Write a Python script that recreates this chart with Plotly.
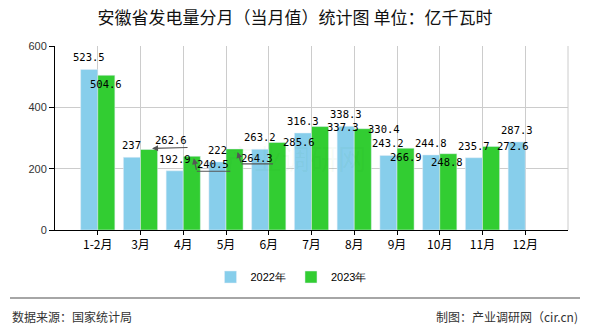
import plotly.graph_objects as go

categories = ["1-2月", "3月", "4月", "5月", "6月", "7月", "8月", "9月", "10月", "11月", "12月"]
values_2022 = [523.5, 237, 192.9, 222, 263.2, 316.3, 338.3, 243.2, 244.8, 235.7, 287.3]
values_2023 = [504.6, 262.6, 240.5, 264.3, 285.6, 337.3, 330.4, 266.9, 248.8, 272.6, None]
series_names = ["2022年", "2023年"]
y_ticks = [0, 200, 400, 600]

# label offsets (pixels) for 2023 labels relative to bar top centre (dx right, dy down)
label_off_2023 = [(0, 9), (22, -9), (21, 8), (22, 9), (22, 0), (23, 0), (21, 0), (0, 9), (-1, 8), (22, 0), (0, 0)]

W, H = 590, 330
ML, MR, MT, MB = 55, 22, 46, 100
plot_w = W - ML - MR
unit_px = plot_w / 12.0
bar_half = 0.4 * unit_px / 2

C22 = "#87CEEB"
C23 = "#32CD32"
LABEL_FONT = dict(family="DejaVu Sans Mono, Liberation Mono, monospace", size=10.5, color="#000")

fig = go.Figure()
fig.add_trace(go.Bar(x=categories, y=values_2022, name=series_names[0], marker_color=C22))
fig.add_trace(go.Bar(x=categories, y=values_2023, name=series_names[1], marker_color=C23))

ann = []
for c, v in zip(categories, values_2022):
    ann.append(dict(x=c, y=v, xref="x", yref="y", text=str(v), showarrow=False,
                    xshift=-bar_half, yshift=12, font=LABEL_FONT))
for c, v, (dx, dy) in zip(categories, values_2023, label_off_2023):
    if v is None:
        continue
    ann.append(dict(x=c, y=v, xref="x", yref="y", text=str(v), showarrow=False,
                    xshift=bar_half + dx, yshift=-dy, font=LABEL_FONT))

# leader lines (head dx,dy ; tail dx,dy ; arrowhead?) relative to 2023 bar top centre
leaders = {
    "3月": [((3, -1), (40, -2), True)],
    "4月": [((2, 2), (5, 15), True), ((5, 15), (40, 15), False)],
    "5月": [((3, 3), (7, 15), True), ((7, 15), (40, 15), False)],
}
for c, segs in leaders.items():
    v = values_2023[categories.index(c)]
    for (hx, hy), (tx, ty), head in segs:
        ann.append(dict(x=c, y=v, xref="x", yref="y", text="", showarrow=True,
                        xshift=bar_half + hx, yshift=-hy, ax=tx - hx, ay=ty - hy,
                        arrowhead=2 if head else 0, arrowsize=1, arrowwidth=1.2,
                        arrowcolor="#555"))

# watermark
ann.append(dict(x=0.47, y=0.27, xref="paper", yref="paper", text="产业调研网", showarrow=False,
                font=dict(family="Noto Sans CJK SC", size=28, color="rgba(0,140,0,0.05)")))

py = lambda ypx: -(ypx - (H - MB)) / (H - MT - MB)
px = lambda xpx: (xpx - ML) / plot_w

ann.append(dict(x=px(10), y=py(316), xref="paper", yref="paper", text="数据来源：国家统计局",
                showarrow=False, xanchor="left", yanchor="middle",
                font=dict(family="Noto Sans CJK SC", size=12, color="#333")))
ann.append(dict(x=px(580), y=py(316), xref="paper", yref="paper", text="制图：产业调研网（cir.cn)",
                showarrow=False, xanchor="right", yanchor="middle",
                font=dict(family="Noto Sans CJK SC", size=12, color="#333")))

shapes = [
    dict(type="line", xref="paper", yref="paper", x0=px(10), x1=px(580), y0=py(298), y1=py(298),
         line=dict(color="#888", width=1.5)),
    dict(type="line", xref="paper", yref="paper", x0=1, x1=1, y0=0, y1=1,
         line=dict(color="#cccccc", width=1), layer="below"),
]

fig.update_layout(
    width=W, height=H,
    margin=dict(l=ML, r=MR, t=MT, b=MB),
    paper_bgcolor="white", plot_bgcolor="white",
    title=dict(text="安徽省发电量分月（当月值）统计图 单位：亿千瓦时", x=0.5, xanchor="center",
               y=1 - 18 / H, yanchor="middle",
               font=dict(family="Noto Sans CJK SC", size=17, color="#111")),
    barmode="group", bargap=0.2, bargroupgap=0,
    showlegend=True,
    legend=dict(orientation="h", x=px(291), xanchor="center", y=py(277), yanchor="middle",
                font=dict(family="Liberation Sans, Arial", size=11, color="#000"),
                itemwidth=30, traceorder="normal"),
    annotations=ann, shapes=shapes,
)
fig.update_xaxes(type="category", categoryorder="array", categoryarray=categories,
                 range=[-1, 11], showgrid=True, gridcolor="#cccccc", gridwidth=1,
                 showline=True, linecolor="#000", linewidth=1,
                 ticks="outside", ticklen=4, tickcolor="#000",
                 tickfont=dict(family="Noto Sans CJK SC", size=12, color="#000"))
fig.update_yaxes(range=[0, 600], tickvals=y_ticks, showgrid=True, gridcolor="#cccccc", gridwidth=1,
                 showline=True, linecolor="#000", linewidth=1, zeroline=False,
                 ticks="outside", ticklen=5, tickcolor="#000",
                 tickfont=dict(family="Liberation Sans, Arial", size=11, color="#333"))

fig.write_html("out.html")
